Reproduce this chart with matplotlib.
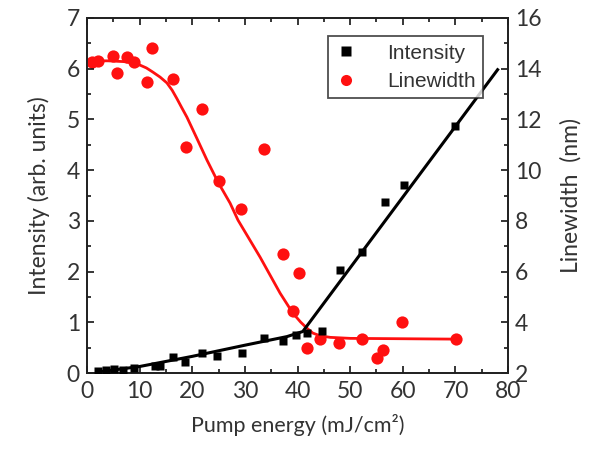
import numpy as np
import matplotlib
matplotlib.use("Agg")
import matplotlib.pyplot as plt
from matplotlib.lines import Line2D
from matplotlib.ticker import MultipleLocator

# pump energy (mJ/cm^2) vs emission intensity (arb. units)
int_x = [2.1, 3.6, 5.1, 6.8, 8.9, 12.9, 13.9, 16.3, 18.6, 21.9, 24.7, 29.5,
         33.6, 37.2, 39.7, 41.8, 44.7, 48.1, 52.3, 56.6, 60.2, 69.9]
int_y = [0.04, 0.06, 0.08, 0.06, 0.10, 0.14, 0.14, 0.32, 0.22, 0.39, 0.34, 0.39,
         0.69, 0.63, 0.75, 0.79, 0.83, 2.03, 2.39, 3.37, 3.71, 4.87]

# below / above threshold fits of the intensity
int_fit_x = [2, 10, 20, 30, 38, 41, 78]
int_fit_y = [0.02, 0.13, 0.33, 0.55, 0.72, 0.82, 5.98]

# linewidth (nm)
lw_x = [0.95, 2.1, 4.9, 5.7, 7.6, 8.9, 12.4, 11.4, 16.3, 21.9, 18.8, 33.6,
        25.1, 29.3, 37.2, 40.3, 39.1, 41.8, 44.3, 47.9, 52.3, 55.1, 56.2,
        59.9, 70.1]
lw_y = [14.26, 14.3, 14.5, 13.83, 14.46, 14.26, 14.8, 13.46, 13.6, 12.4, 10.9,
        10.83, 9.57, 8.47, 6.69, 5.94, 4.44, 2.99, 3.34, 3.18, 3.34, 2.59, 2.9,
        4.01, 3.34]

lw_fit_x = [0, 4, 7, 9, 10.1, 11.3, 12.5, 13.9, 15.2, 16.2, 17.1, 18.0, 19.0,
            20.9, 22.8, 24.9, 27.2, 28.7, 30.8, 32.9, 34.8, 36.7, 39.1, 40.6,
            41.8, 42.9, 44.3, 46.2, 50, 70.1]
lw_fit_y = [14.31, 14.31, 14.28, 14.22, 14.14, 14.03, 13.87, 13.67, 13.44,
            13.15, 12.82, 12.47, 12.09, 11.25, 10.4, 9.53, 8.70, 8.03, 7.30,
            6.57, 5.86, 5.15, 4.37, 4.01, 3.77, 3.58, 3.47, 3.41, 3.37, 3.34]

plt.rcParams['font.family'] = ['Lato', 'DejaVu Sans']
txt = '#333333'

fig = plt.figure(figsize=(5.95, 4.49), dpi=100)
ax = fig.add_axes([0.146, 0.169, 0.708, 0.791])
ax2 = ax.twinx()

ax2.plot(lw_fit_x, lw_fit_y, color='#ff1010', lw=2.0, zorder=2)
ax2.plot(lw_x, lw_y, 'o', color='#ff1010', ms=8.8, mec='none', zorder=3)

# draw intensity above the linewidth data
ax.set_zorder(ax2.get_zorder() + 1)
ax.patch.set_visible(False)
ax.plot(int_fit_x, int_fit_y, color='black', lw=2.2, zorder=2)
ax.plot(int_x, int_y, 's', color='black', ms=6, mec='none', zorder=3)

ax.set_xlim(0, 80)
ax.set_ylim(0, 7)
ax2.set_ylim(2, 16)

ax.xaxis.set_major_locator(MultipleLocator(10))
ax.xaxis.set_minor_locator(MultipleLocator(5))
ax.yaxis.set_major_locator(MultipleLocator(1))
ax.yaxis.set_minor_locator(MultipleLocator(0.5))
ax2.yaxis.set_major_locator(MultipleLocator(2))
ax2.yaxis.set_minor_locator(MultipleLocator(1))

for a in (ax, ax2):
    for s in a.spines.values():
        s.set_linewidth(1.3)
        s.set_color('#222222')
ax.tick_params(which='both', direction='in', top=True, labelsize=16.5,
               labelcolor=txt, width=1.1)
ax.tick_params(which='major', length=5)
ax.tick_params(which='minor', length=3)
ax.tick_params(axis='x', pad=6)
ax.tick_params(axis='y', right=False, pad=5)
ax2.tick_params(which='both', direction='in', labelsize=16.5, labelcolor=txt,
                width=1.1, pad=5)
ax2.tick_params(which='major', length=5)
ax2.tick_params(which='minor', length=3)

ax.set_xlabel('Pump energy (mJ/cm²)', fontsize=15.5, color=txt, labelpad=8)
ax.set_ylabel('Intensity (arb. units)', fontsize=16.5, color=txt, labelpad=12)
ax2.set_ylabel('Linewidth  (nm)', fontsize=16.5, color=txt, labelpad=13)

handles = [
    Line2D([], [], ls='none', marker='s', color='black', ms=7, mec='none'),
    Line2D([], [], ls='none', marker='o', color='#ff1010', ms=8, mec='none'),
]
leg = ax.legend(handles, ['Intensity', 'Linewidth'], loc='upper left',
                bbox_to_anchor=(0.572, 0.948), borderaxespad=0,
                frameon=True, fancybox=False,
                edgecolor='#222222', handlelength=1.0, handletextpad=1.5,
                borderpad=0.35, labelspacing=0.45,
                prop={'family': 'Liberation Sans', 'size': 15})
leg.get_frame().set_linewidth(1.3)
for t in leg.get_texts():
    t.set_color(txt)

fig.savefig('out.png', dpi=100)
